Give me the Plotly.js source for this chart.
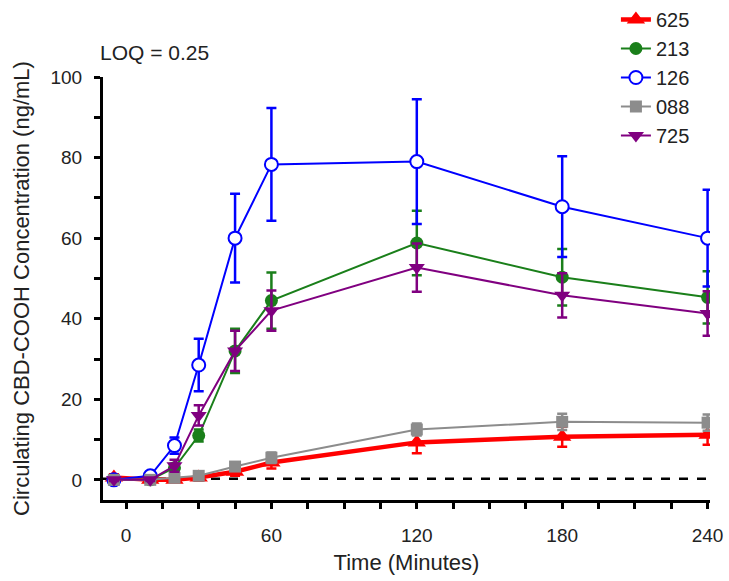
<!DOCTYPE html>
<html>
<head>
<meta charset="utf-8">
<script src="https://cdn.plot.ly/plotly-3.0.1.min.js"></script>
<style>
  html, body { margin: 0; padding: 0; background: #fff; }
  #chart { width: 729px; height: 581px; }
</style>
</head>
<body>
<div id="chart"></div>
<script>
// sampling times (minutes), -5 = pre-dose
var times = [-5, 10, 20, 30, 45, 60, 120, 180, 240];

var names = ['625', '213', '126', '088', '725'];

var mean625 = [0.6, 0, 0, 0.6, 2, 4.3, 9.3, 10.7, 11.2];
var err625  = [0.8, 0.5, 0.5, 0.8, 1, 1.5, 2.7, 2.5, 2.5];

var mean213 = [0, 0, 3, 11, 32, 44.5, 58.8, 50.3, 45.3];
var err213  = [0.3, 0.3, 1, 1.5, 5.5, 7, 8, 7, 6.5];

var mean126 = [0, 1, 8.5, 28.5, 60, 78.3, 79, 67.8, 60];
var err126  = [0.3, 0.8, 2, 6.5, 11, 14, 15.5, 12.5, 12];

var mean088 = [0, 0, 0.5, 1, 3.3, 5.5, 12.5, 14.4, 14.2];
var err088  = [0.3, 0.3, 0.5, 0.8, 1, 1.3, 1.5, 2, 2];

var mean725 = [0, 0, 3.5, 16, 32, 42, 52.7, 45.8, 41.3];
var err725  = [0.3, 0.3, 1.5, 2.5, 5, 5, 6, 5.5, 5.5];

var loq = 0.25;

function series(name, y, e, color, lw, marker) {
  return {
    x: times, y: y, name: name, type: 'scatter', mode: 'lines+markers',
    line: {color: color, width: lw},
    marker: marker,
    error_y: {type: 'data', array: e, visible: true, color: color, thickness: 2.5, width: 5}
  };
}

var data = [
  series(names[0], mean625, err625, '#ff0000', 4.5,
    {symbol: 'triangle-up', size: 16, color: '#ff0000'}),
  series(names[1], mean213, err213, '#1a7f1a', 2,
    {symbol: 'circle', size: 13, color: '#1a7f1a'}),
  series(names[2], mean126, err126, '#0000ff', 2,
    {symbol: 'circle', size: 13, color: '#ffffff', line: {color: '#0000ff', width: 2}}),
  series(names[3], mean088, err088, '#8c8c8c', 2,
    {symbol: 'square', size: 12, color: '#8c8c8c'}),
  series(names[4], mean725, err725, '#800080', 2,
    {symbol: 'triangle-down', size: 14, color: '#800080'})
];

var layout = {
  width: 729, height: 581,
  margin: {l: 103, r: 19, t: 0, b: 81},
  paper_bgcolor: '#ffffff', plot_bgcolor: '#ffffff',
  font: {family: 'Liberation Sans, Arial, sans-serif', color: '#222', size: 19},
  showlegend: true,
  legend: {
    x: 0.845, y: 1.0, xanchor: 'left', yanchor: 'top',
    font: {size: 20}, bgcolor: 'rgba(0,0,0,0)'
  },
  xaxis: {
    range: [-9.5, 241],
    tickvals: [0, 60, 120, 180, 240],
    showline: true, linewidth: 3, linecolor: '#000',
    ticks: 'outside', ticklen: 6, tickwidth: 3, tickcolor: '#000',
    minor: {dtick: 15, tick0: 0, ticks: 'outside', ticklen: 6, tickwidth: 3, tickcolor: '#000', showgrid: false},
    showgrid: false, zeroline: false,
    tickfont: {size: 19}, ticklabelstandoff: 10,
    title: {text: 'Time (Minutes)', font: {size: 22}, standoff: 10}
  },
  yaxis: {
    domain: [0, 0.846],
    range: [-5, 100],
    tickvals: [0, 20, 40, 60, 80, 100],
    showline: true, linewidth: 3, linecolor: '#000',
    ticks: 'outside', ticklen: 6, tickwidth: 3, tickcolor: '#000',
    minor: {dtick: 10, tick0: 0, ticks: 'outside', ticklen: 6, tickwidth: 3, tickcolor: '#000', showgrid: false},
    showgrid: false, zeroline: false,
    tickfont: {size: 19}, ticklabelstandoff: 8,
    title: {text: 'Circulating CBD-COOH Concentration (ng/mL)', font: {size: 22}, standoff: 15}
  },
  shapes: [{
    type: 'line', xref: 'x', yref: 'y', x0: -9.5, x1: 240, y0: loq, y1: loq,
    line: {color: '#000', width: 2.5, dash: 'dash'}, layer: 'below'
  }],
  annotations: [{
    text: 'LOQ = 0.25', xref: 'paper', yref: 'paper', x: -0.008, y: 0.894,
    xanchor: 'left', yanchor: 'middle', showarrow: false, font: {size: 21}
  }]
};

Plotly.newPlot('chart', data, layout, {displayModeBar: false, staticPlot: true});
</script>
</body>
</html>
